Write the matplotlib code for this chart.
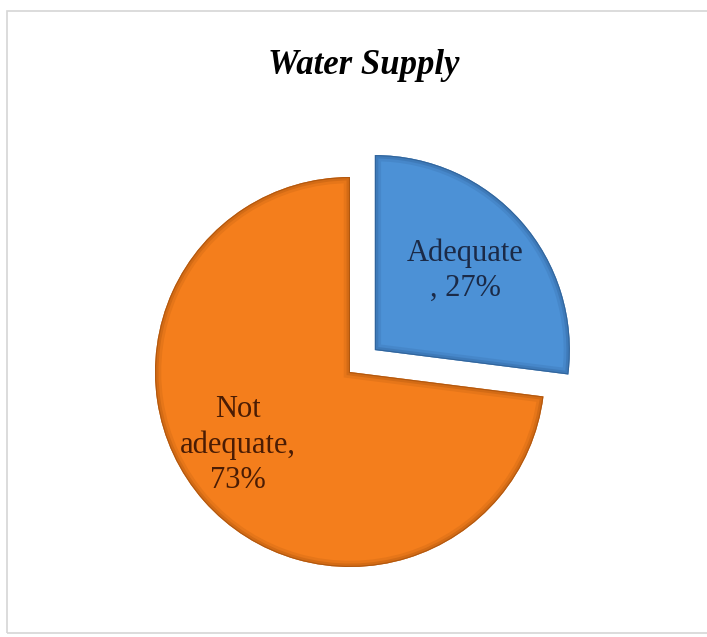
import numpy as np
import matplotlib
matplotlib.use("Agg")
import matplotlib.pyplot as plt
from matplotlib.patches import Wedge, Rectangle

categories = ["Adequate", "Not adequate"]
shares = [27, 73]
label_texts = ["Adequate\n, 27%", "Not\nadequate,\n73%"]
# where each slice label sits (pie radius = 1)
label_pos = [(0.59, 0.52), (-0.574, -0.374)]

fills = ["#4C91D6", "#F47E1C"]
rims = ["#2E5F94", "#A9520C"]
text_colors = ["#1B2A47", "#4A1C04"]

plt.rcParams["font.family"] = ["Liberation Serif", "DejaVu Serif"]

fig = plt.figure(figsize=(7.07, 6.37), dpi=100)
ax = fig.add_axes([0, 0, 1, 1])

wedges, _ = ax.pie(shares, startangle=90, counterclock=False,
                   explode=[0.17, 0], colors=fills, radius=1,
                   wedgeprops=dict(edgecolor="none"))

# bevel: darker rim drawn inside each slice, plus a thin outline
for w, rim in zip(wedges, rims):
    for lw, a in [(9, 0.18), (5, 0.3), (1.6, 0.8)]:
        edge = Wedge(w.center, w.r, w.theta1, w.theta2, fill=False,
                     edgecolor=rim, linewidth=lw, alpha=a)
        edge.set_clip_path(w)
        ax.add_patch(edge)

for (x, y), txt, tc in zip(label_pos, label_texts, text_colors):
    ax.text(x, y, txt, ha="center", va="center", fontsize=22,
            color=tc, linespacing=1.3, multialignment="center")

# keep 1 data unit = 195 px with the pie centre at (350, 372) px
s = 195.0
ax.set_xlim(-350 / s, (707 - 350) / s)
ax.set_ylim(-(637 - 372) / s, 372 / s)
ax.set_aspect("auto")
ax.axis("off")

fig.text(0.515, 0.897, "Water Supply", ha="center", va="center",
         fontsize=25, fontweight="bold", fontstyle="italic", color="black")

fig.patches.append(Rectangle((7 / 707, 4 / 637), 1.2, 1 - 15 / 637,
                             transform=fig.transFigure, fill=False,
                             edgecolor="#D6D6D6", linewidth=1.2))

fig.savefig("out.png", dpi=100)
plt.close(fig)
